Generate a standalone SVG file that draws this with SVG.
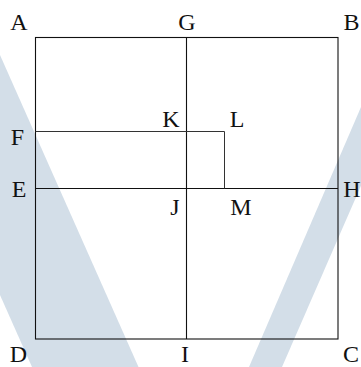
<svg xmlns="http://www.w3.org/2000/svg" width="361" height="367" viewBox="0 0 361 367">
<style>
.bg{fill:#d3dee8;stroke:none}
.ln{stroke:#111;stroke-width:1.1;fill:none}
.lt{stroke:#333;stroke-width:1;fill:none}
text{font-family:'Liberation Serif','DejaVu Serif',serif;font-size:24px;fill:#111;text-anchor:middle}
</style>
<g id="watermark">
<polygon class="bg" points="-24.4,0 138.5,367 32,367 -131,0"/>
<polygon class="bg" points="249,367 282,367 370,165 370,86"/>
</g>
<g id="connectors">
<rect class="ln" x="35.5" y="37.5" width="302.5" height="301.5"/>
<line class="ln" x1="186.5" y1="37.5" x2="186.5" y2="339"/>
<line class="ln" x1="35.5" y1="188.5" x2="338" y2="188.5"/>
<polyline class="lt" points="35.5,131.5 224.5,131.5 224.5,188.5"/>
</g>
<g id="A"><text x="19" y="29.5">A</text></g>
<g id="G"><text x="187" y="29.5">G</text></g>
<g id="B"><text x="351.5" y="29.5">B</text></g>
<g id="K"><text x="171" y="126.5">K</text></g>
<g id="L"><text x="237" y="126.5">L</text></g>
<g id="F"><text x="17.5" y="145">F</text></g>
<g id="E"><text x="19" y="196.5">E</text></g>
<g id="H"><text x="352" y="196.5">H</text></g>
<g id="J"><text x="175" y="214.5">J</text></g>
<g id="M"><text x="241" y="214.5">M</text></g>
<g id="D"><text x="18.5" y="361.5">D</text></g>
<g id="I"><text x="185" y="361.5">I</text></g>
<g id="C"><text x="351" y="361.5">C</text></g>
</svg>
